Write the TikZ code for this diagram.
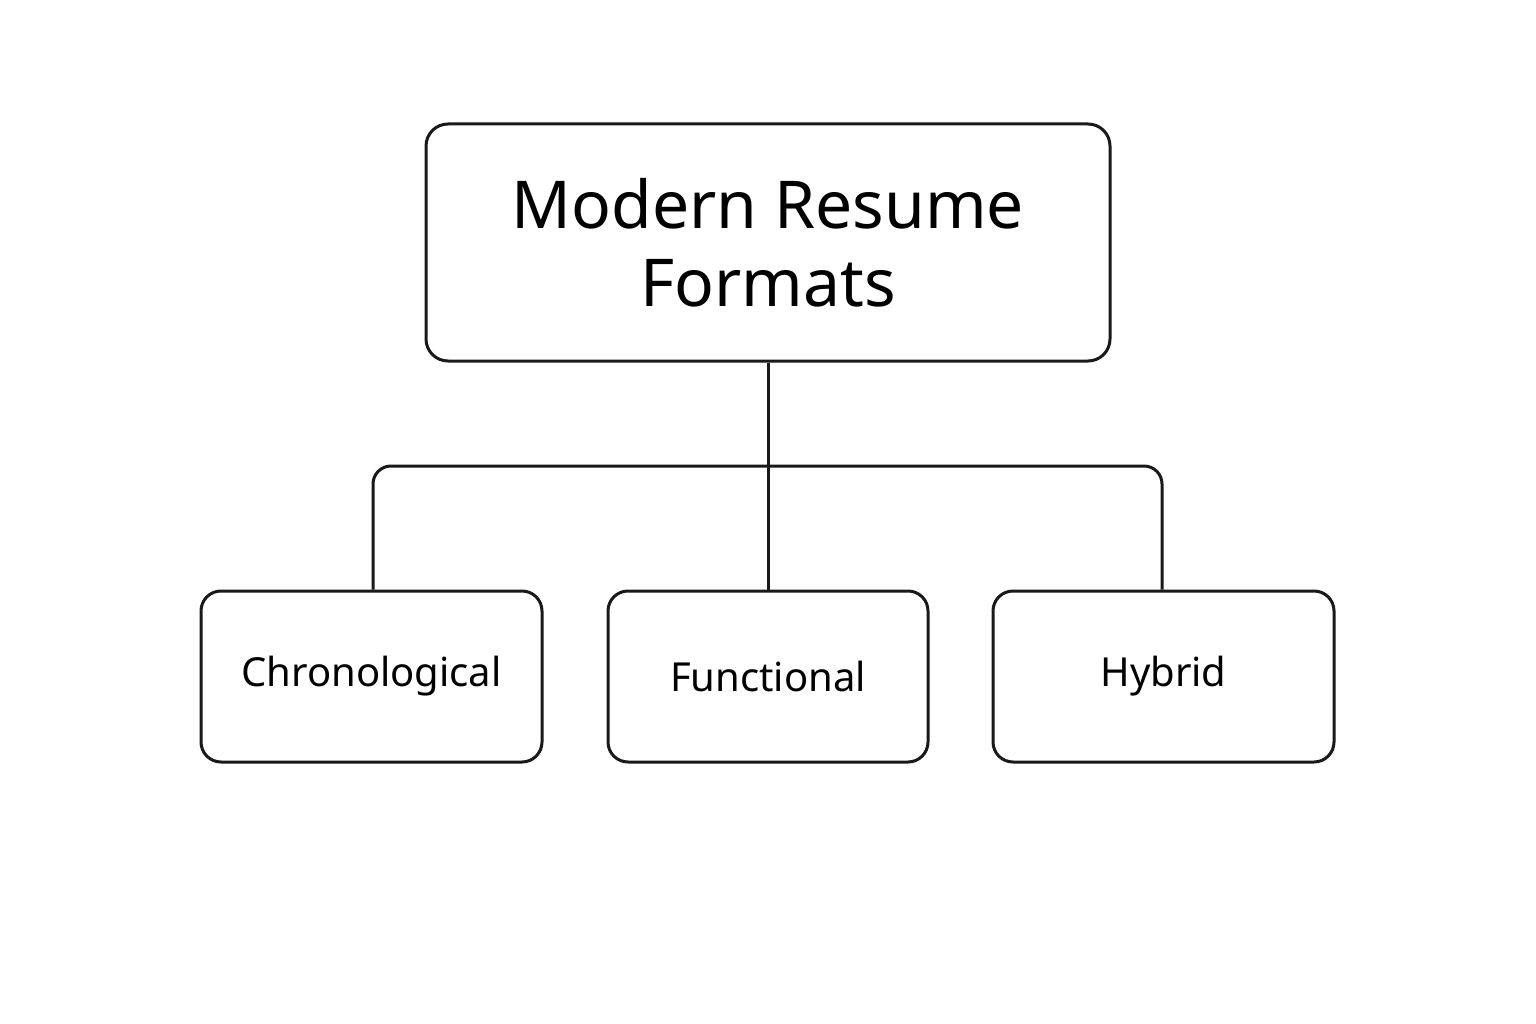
\documentclass[tikz,border=0pt]{standalone}
\usepackage{fontspec}
\setmainfont{Noto Sans}
\begin{document}
\begin{tikzpicture}[x=1pt,y=-1pt,
  box/.style={draw=black!90, line width=3pt, rounded corners=22pt, inner sep=0pt},
  conn/.style={draw=black!90, line width=3pt, rounded corners=18pt}]
\useasboundingbox (0,0) rectangle (1536,1024);
\node[box, minimum width=684pt, minimum height=237pt, align=center,
  font=\fontsize{66}{78}\selectfont\bfseries] (top) at (768,242.5) {Modern Resume\\Formats};
\node[box, rounded corners=20pt, minimum width=341pt, minimum height=171pt, font=\fontsize{40}{48}\selectfont] (c) at (371.5,676.5) {Chronological};
\node[box, rounded corners=20pt, minimum width=320pt, minimum height=171pt, font=\fontsize{40}{48}\selectfont] (f) at (768,676.5) {Functional};
\node[box, rounded corners=20pt, minimum width=341pt, minimum height=171pt, font=\fontsize{40}{48}\selectfont] (h) at (1163.5,676.5) {Hybrid};
\coordinate (bar) at (768,466);
\draw[conn] (top.south) -- (f.north);
\draw[conn] (c.north -| 373,0) -- (373,466) -- (1162,466) -- (h.north -| 1162,0);
\end{tikzpicture}
\end{document}
